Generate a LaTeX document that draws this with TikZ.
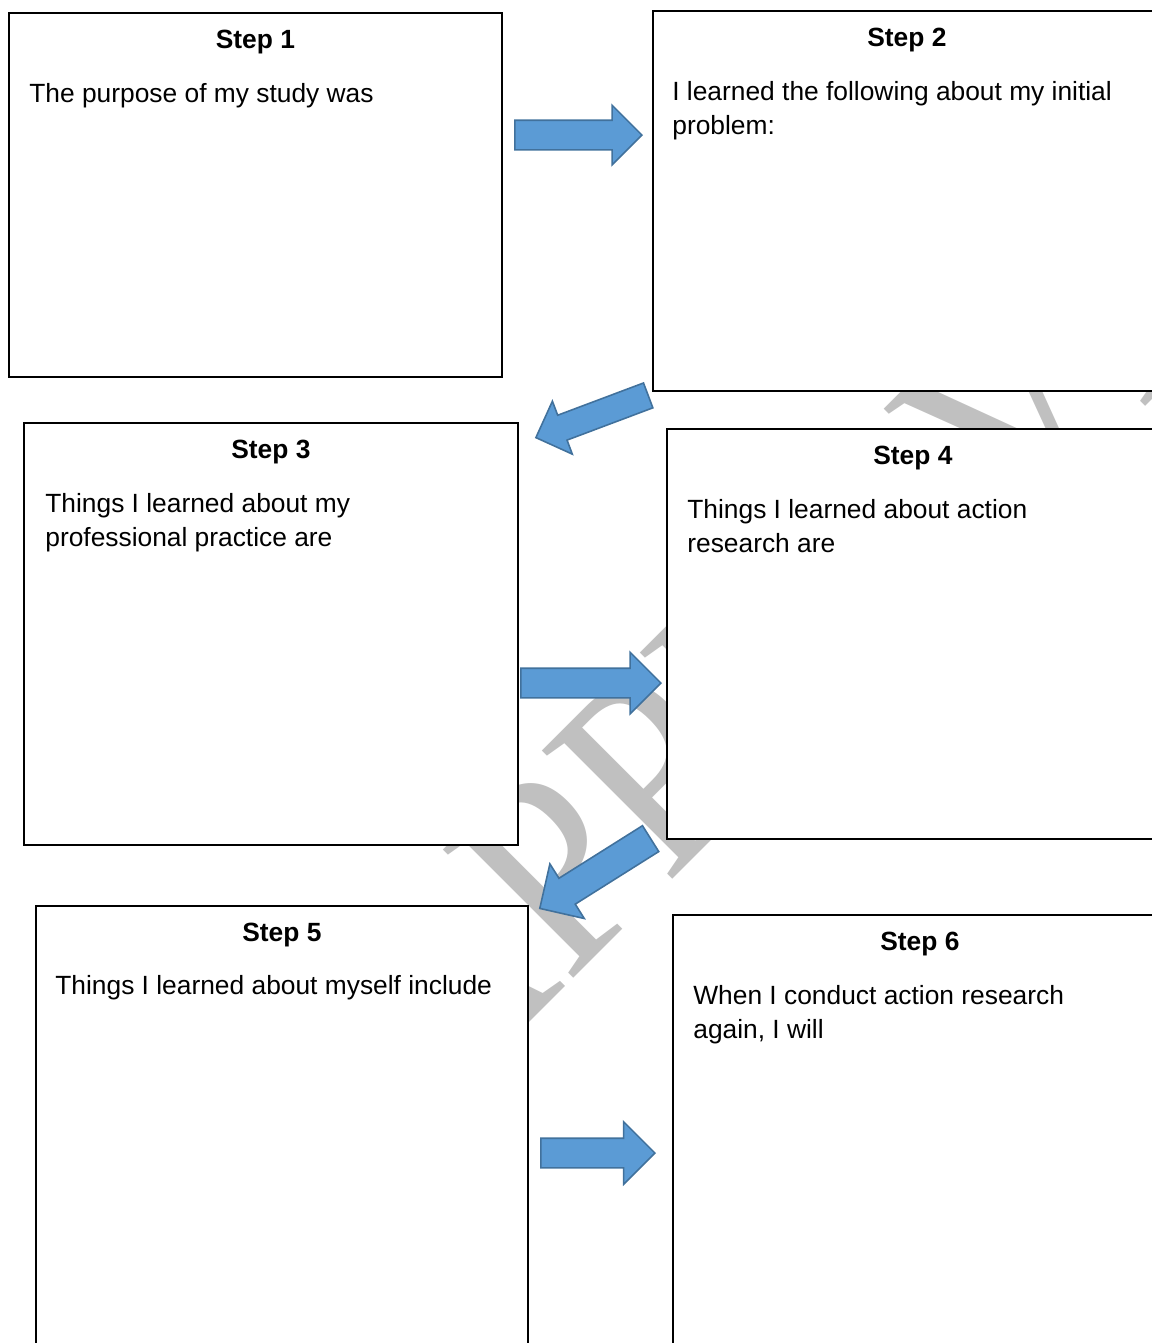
\documentclass[tikz,border=0pt]{standalone}
\usepackage{fontspec}
\setmainfont{Liberation Sans}
\newfontfamily\wmfont{Liberation Serif}
\usepackage{xcolor}
\usetikzlibrary{shapes.arrows, positioning, calc}
\definecolor{arrowfill}{HTML}{5B9BD5}
\definecolor{arrowline}{HTML}{41719C}
\definecolor{wmgray}{RGB}{192,192,192}
\tikzset{
    stepbox/.style={
        rectangle,
        draw=black,
        line width=1.1pt,
        fill=white,
        anchor=north west,
        inner sep=0pt
    },
    steptitle/.style={
        font=\fontsize{15}{18}\selectfont\bfseries,
        inner sep=0pt
    },
    stepbody/.style={
        font=\fontsize{15}{19.35}\selectfont,
        align=left,
        inner sep=0pt
    },
    blockarrow/.style={
        single arrow,
        draw=arrowline,
        line width=0.9pt,
        fill=arrowfill,
        inner xsep=0pt,
        inner ysep=0.28cm,
        anchor=tip
    },
    watermark/.style={
        font=\wmfont\fontsize{159}{159}\selectfont,
        text=wmgray,
        inner sep=0pt
    }
}

\begin{document}
\begin{tikzpicture}[x=0.02cm, y=-0.02cm]
\useasboundingbox (0,0) rectangle (1152,1343);

% Background watermark
\node[watermark, rotate=45, xscale=0.9, anchor=base west] (wm) at (182,1370) {UNAPPROVED};

% Top row
\node[stepbox, minimum width=9.86cm, minimum height=7.28cm] (step1) at (8,12) {};
\node[steptitle, below=0.73cm of step1.north, anchor=base] {Step 1};
\node[stepbody, below right=1.42cm and 0.42cm of step1.north west] {The purpose of my study was};

\node[stepbox, minimum width=10.16cm, minimum height=7.6cm] (step2) at (652,10) {};
\node[steptitle, below=0.73cm of step2.north, anchor=base] {Step 2};
\node[stepbody, below right=1.42cm and 0.4cm of step2.north west] {I learned the following about my initial\\problem:};

% Middle row
\node[stepbox, minimum width=9.88cm, minimum height=8.44cm] (step3) at (23,422) {};
\node[steptitle, below=0.73cm of step3.north, anchor=base] {Step 3};
\node[stepbody, below right=1.42cm and 0.44cm of step3.north west] {Things I learned about my\\professional practice are};

\node[stepbox, minimum width=9.84cm, minimum height=8.2cm] (step4) at (666,428) {};
\node[steptitle, below=0.73cm of step4.north, anchor=base] {Step 4};
\node[stepbody, below right=1.42cm and 0.42cm of step4.north west] {Things I learned about action\\research are};

% Bottom row
\node[stepbox, minimum width=9.84cm, minimum height=9.2cm] (step5) at (35,905) {};
\node[steptitle, below=0.73cm of step5.north, anchor=base] {Step 5};
\node[stepbody, below right=1.4cm and 0.4cm of step5.north west] {Things I learned about myself include};

\node[stepbox, minimum width=9.88cm, minimum height=9.2cm] (step6) at (672,914) {};
\node[steptitle, below=0.73cm of step6.north, anchor=base] {Step 6};
\node[stepbody, below right=1.42cm and 0.42cm of step6.north west] {When I conduct action research\\again, I will};

% Arrows between the steps
\node[blockarrow, minimum height=2.54cm, single arrow head extend=0.3cm] (arr12) at ($(step2.north west)+(-9,125)$) {};
\node[blockarrow, rotate=200.6, inner ysep=0.25cm, minimum height=2.4cm, single arrow head extend=0.3cm] (arr23) at ($(step3.north east)+(16,16)$) {};
\node[blockarrow, minimum height=2.8cm, single arrow head extend=0.32cm] (arr34) at ($(step4.north west)+(-4,255)$) {};
\node[blockarrow, rotate=212.2, inner ysep=0.29cm, minimum height=2.62cm, single arrow head extend=0.34cm] (arr45) at ($(step5.north east)+(10,4)$) {};
\node[blockarrow, minimum height=2.28cm, single arrow head extend=0.33cm] (arr56) at ($(step6.north west)+(-16,239)$) {};

\end{tikzpicture}
\end{document}
